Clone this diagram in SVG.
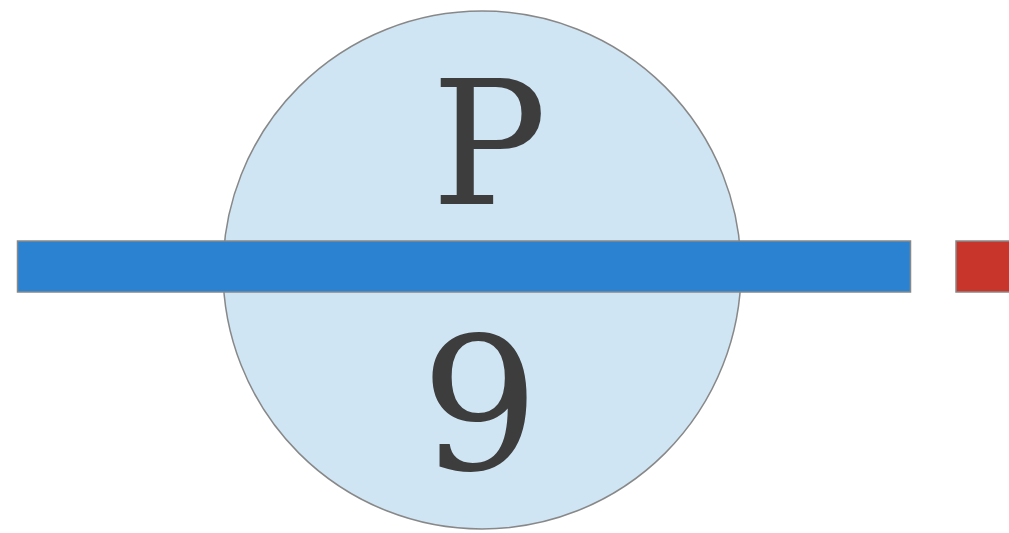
<svg xmlns="http://www.w3.org/2000/svg" width="1009" height="533" viewBox="0 0 1009 533">
<style>
.lbl{font-family:"DejaVu Serif","Liberation Serif",serif;fill:#3d3d3d;text-anchor:middle}
.bar{stroke:#888;stroke-width:1.5}
</style>
<rect width="1009" height="533" fill="#fff"/>
<g id="node-circle">
<circle cx="482" cy="270" r="259" fill="#cfe5f3" stroke="#888" stroke-width="1.5"/>
<text class="lbl" x="489" y="204" font-size="172">P</text>
<text class="lbl" x="480" y="469" font-size="186">9</text>
</g>
<g id="connectors">
<rect class="bar" x="17.5" y="241" width="893" height="51" fill="#2a82d0"/>
<rect class="bar" x="956" y="241" width="60" height="51" fill="#c8352a"/>
</g>
</svg>
